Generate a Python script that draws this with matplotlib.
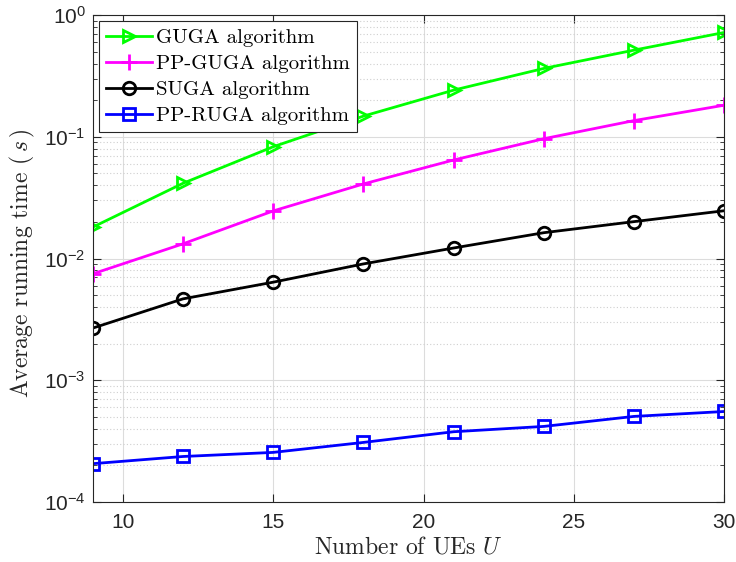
import numpy as np
import matplotlib
matplotlib.use('Agg')
import matplotlib.pyplot as plt
from matplotlib.ticker import FixedLocator, FixedFormatter, LogLocator, NullFormatter

plt.rcParams['mathtext.fontset'] = 'cm'
plt.rcParams['font.family'] = ['Liberation Sans', 'DejaVu Sans']

# data
users = [9, 12, 15, 18, 21, 24, 27, 30]
guga = [0.0181, 0.0415, 0.0829, 0.148, 0.242, 0.365, 0.516, 0.721]
pp_guga = [0.00748, 0.0132, 0.0246, 0.041, 0.0645, 0.0965, 0.136, 0.182]
suga = [0.00268, 0.00466, 0.00639, 0.00903, 0.0122, 0.0163, 0.0201, 0.0247]
pp_ruga = [0.000206, 0.000236, 0.000255, 0.000308, 0.000377, 0.000417, 0.000504, 0.000553]

labels = ['GUGA algorithm', 'PP-GUGA algorithm', 'SUGA algorithm', 'PP-RUGA algorithm']
x_ticks = [10, 15, 20, 25, 30]
y_ticks = [1e-4, 1e-3, 1e-2, 1e-1, 1e0]
y_tick_labels = [r'$\mathregular{10^{-4}}$', r'$\mathregular{10^{-3}}$', r'$\mathregular{10^{-2}}$',
                 r'$\mathregular{10^{-1}}$', r'$\mathregular{10^{0}}$']

fig = plt.figure(figsize=(7.36, 5.62), dpi=100)
ax = fig.add_axes([0.126, 0.107, 0.858, 0.866])

lw = 2.0
ms = 9
ax.plot(users, guga, color=(0, 1, 0), marker='>', ms=ms, mfc='none', mew=2, lw=lw, label=labels[0])
ax.plot(users, pp_guga, color=(1, 0, 1), marker='+', ms=ms + 3, mew=2, lw=lw, label=labels[1])
ax.plot(users, suga, color='k', marker='o', ms=ms, mfc='none', mew=2, lw=lw, label=labels[2])
ax.plot(users, pp_ruga, color=(0, 0, 1), marker='s', ms=ms - 1, mfc='none', mew=2, lw=lw, label=labels[3])

ax.set_yscale('log')
ax.set_xlim(9, 30)
ax.set_ylim(1e-4, 1e0)
ax.xaxis.set_major_locator(FixedLocator(x_ticks))
ax.yaxis.set_major_locator(FixedLocator(y_ticks))
ax.yaxis.set_major_formatter(FixedFormatter(y_tick_labels))
ax.yaxis.set_minor_locator(LogLocator(base=10, subs=np.arange(2, 10), numticks=20))
ax.yaxis.set_minor_formatter(NullFormatter())

ax.grid(True, which='major', color='#dcdcdc', lw=0.8, ls='-')
ax.grid(True, which='minor', axis='y', color='#cfcfcf', lw=0.8, ls=(0, (1, 2)))
ax.set_axisbelow(True)

ax.tick_params(which='both', direction='in', top=True, right=True, colors='#262626',
               labelsize=15)
ax.tick_params(axis='x', pad=8)
ax.tick_params(axis='y', pad=5)
ax.tick_params(which='major', length=6)
ax.tick_params(which='minor', length=3)
for s in ax.spines.values():
    s.set_color('#262626')
    s.set_linewidth(0.8)

ax.set_xlabel(r'Number of UEs $U$', fontfamily='cmr10', fontsize=17, color='#262626', labelpad=3)
ax.set_ylabel(r'Average running time $(\,s\,)$', fontfamily='cmr10', fontsize=17, color='#262626')
ax.yaxis.set_label_coords(-0.088, 0.49)

leg = ax.legend(loc='upper left', prop={'family': 'cmr10', 'size': 15}, fancybox=False,
                edgecolor='#262626', framealpha=1, handlelength=2.2, handletextpad=0.2,
                borderpad=0.35, labelspacing=0.35, borderaxespad=0.3)
leg.get_frame().set_linewidth(0.8)

fig.savefig('out.png', dpi=100)
